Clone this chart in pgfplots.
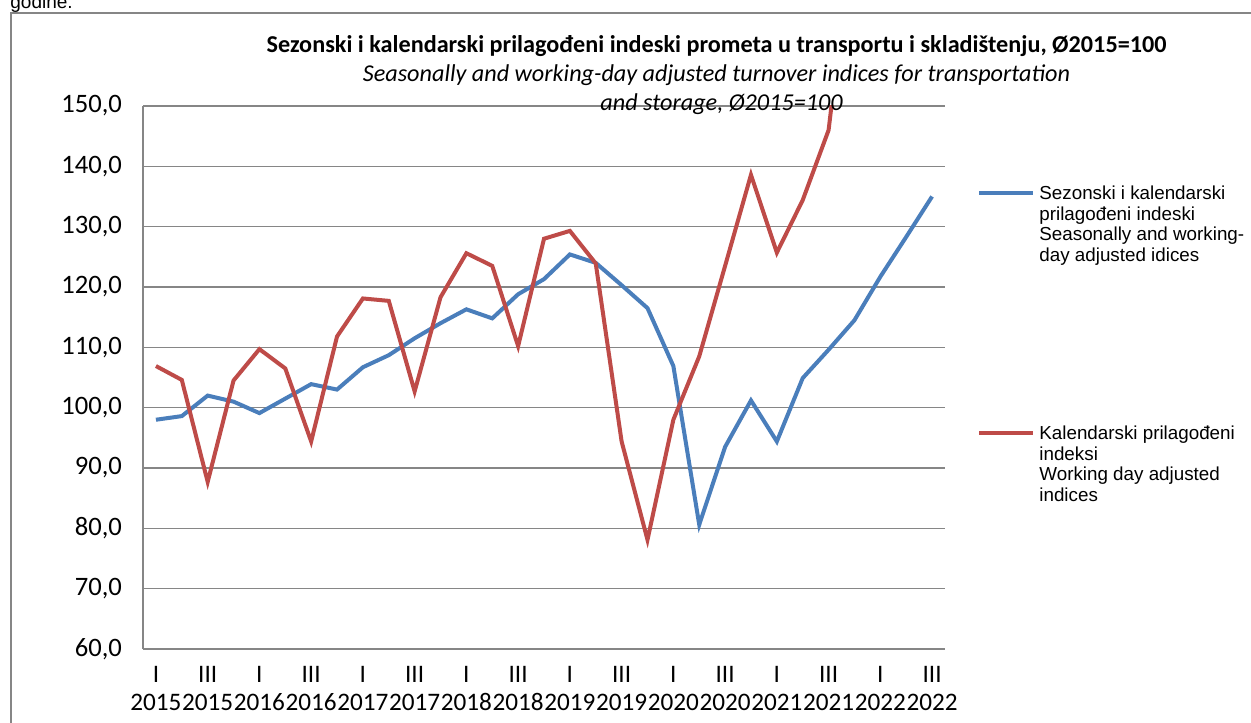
\documentclass[border=0pt]{standalone}
\usepackage{fontspec}
\setmainfont{Carlito}
\newfontfamily\arial{Liberation Sans}
\usepackage{pgfplots}
\pgfplotsset{compat=1.18}
\definecolor{sblue}{RGB}{74,126,187}
\definecolor{sred}{RGB}{190,75,72}
\definecolor{gridgray}{RGB}{134,134,134}
\begin{document}
\begin{tikzpicture}
\useasboundingbox (0,0) rectangle (625.5pt,-361pt);
\begin{axis}[
  at={(71.5pt,-324.5pt)}, anchor=south west,
  scale only axis, width=401pt, height=271.5pt,
  xmin=-0.5, xmax=30.5, ymin=60, ymax=150,
  ytick={60,70,...,150},
  xtick={0,2,...,30},
  xticklabels={{I\\2015},{III\\2015},{I\\2016},{III\\2016},{I\\2017},{III\\2017},{I\\2018},{III\\2018},{I\\2019},{III\\2019},{I\\2020},{III\\2020},{I\\2021},{III\\2021},{I\\2022},{III\\2022}},
  xticklabel style={align=center, font=\fontsize{12.6}{13.8}\selectfont, yshift=-7.5pt, inner sep=1pt},
  yticklabel style={font=\fontsize{13.3}{15}\selectfont, xshift=-7pt,
    /pgf/number format/fixed, /pgf/number format/fixed zerofill,
    /pgf/number format/precision=1, /pgf/number format/use comma,
    /pgf/number format/assume math mode=true},
  major tick length=0pt,
  ymajorgrids, grid style={gridgray, line width=0.75pt},
  axis x line*=bottom, axis y line*=left,
  axis line style={-, gridgray, line width=0.75pt},
  clip=true,
]
\addplot[sblue, line width=2pt] coordinates {
(0,98.0) (1,98.6) (2,102.0) (3,101.0) (4,99.1) (5,101.5) (6,103.9) (7,103.0)
(8,106.7) (9,108.7) (10,111.5) (11,114.0) (12,116.3) (13,114.8) (14,118.8) (15,121.3)
(16,125.4) (17,124.0) (18,120.3) (19,116.5) (20,106.9) (21,80.6) (22,93.5) (23,101.2)
(24,94.4) (25,104.9) (26,109.6) (27,114.5) (28,121.7) (29,128.3) (30,135.0)};
\addplot[sred, line width=2pt] coordinates {
(0,106.9) (1,104.6) (2,87.7) (3,104.5) (4,109.7) (5,106.5) (6,94.4) (7,111.8)
(8,118.1) (9,117.7) (10,102.7) (11,118.3) (12,125.6) (13,123.5) (14,110.2) (15,128.0)
(16,129.3) (17,123.9) (18,94.4) (19,78.1) (20,98.0) (21,108.5) (22,123.5) (23,138.6)
(24,125.7) (25,134.4) (26,146.0) (27,182.0)};
\end{axis}
\begin{scope}[x=0.5pt,y=-0.5pt]
\draw[gridgray, line width=1pt] (11,13) rectangle (1300,800);
\node[anchor=base west, inner sep=0, font=\fontsize{9.5}{11}\arial] at (10,9) {godine.};
\node[anchor=base, inner sep=0, font=\fontsize{12.1}{13}\selectfont\bfseries] at (716.5,53) {Sezonski i kalendarski prilagođeni indeski prometa u transportu i skladištenju, Ø2015=100};
\node[anchor=base, inner sep=0, font=\fontsize{12.1}{13}\selectfont\itshape] at (716.5,82) {Seasonally and working-day adjusted turnover indices for transportation};
\node[anchor=base, inner sep=0, font=\fontsize{12.1}{13}\selectfont\itshape] at (721.5,111) {and storage, Ø2015=100};
\draw[sblue, line width=2pt] (979,192.5) -- (1033,192.5);
\draw[sred, line width=2pt] (979,433) -- (1033,433);
\begin{scope}[every node/.style={anchor=base west, inner sep=0, font=\fontsize{9.4}{10.5}\arial}]
\node at (1039,199.5) {Sezonski i kalendarski};
\node at (1039,220.2) {prilagođeni indeski};
\node at (1039,240.9) {Seasonally and working-};
\node at (1039,261.6) {day adjusted idices};
\node at (1039,439.5) {Kalendarski prilagođeni};
\node at (1039,460.2) {indeksi};
\node at (1039,480.9) {Working day adjusted};
\node at (1039,501.6) {indices};
\end{scope}
\end{scope}
\end{tikzpicture}
\end{document}
